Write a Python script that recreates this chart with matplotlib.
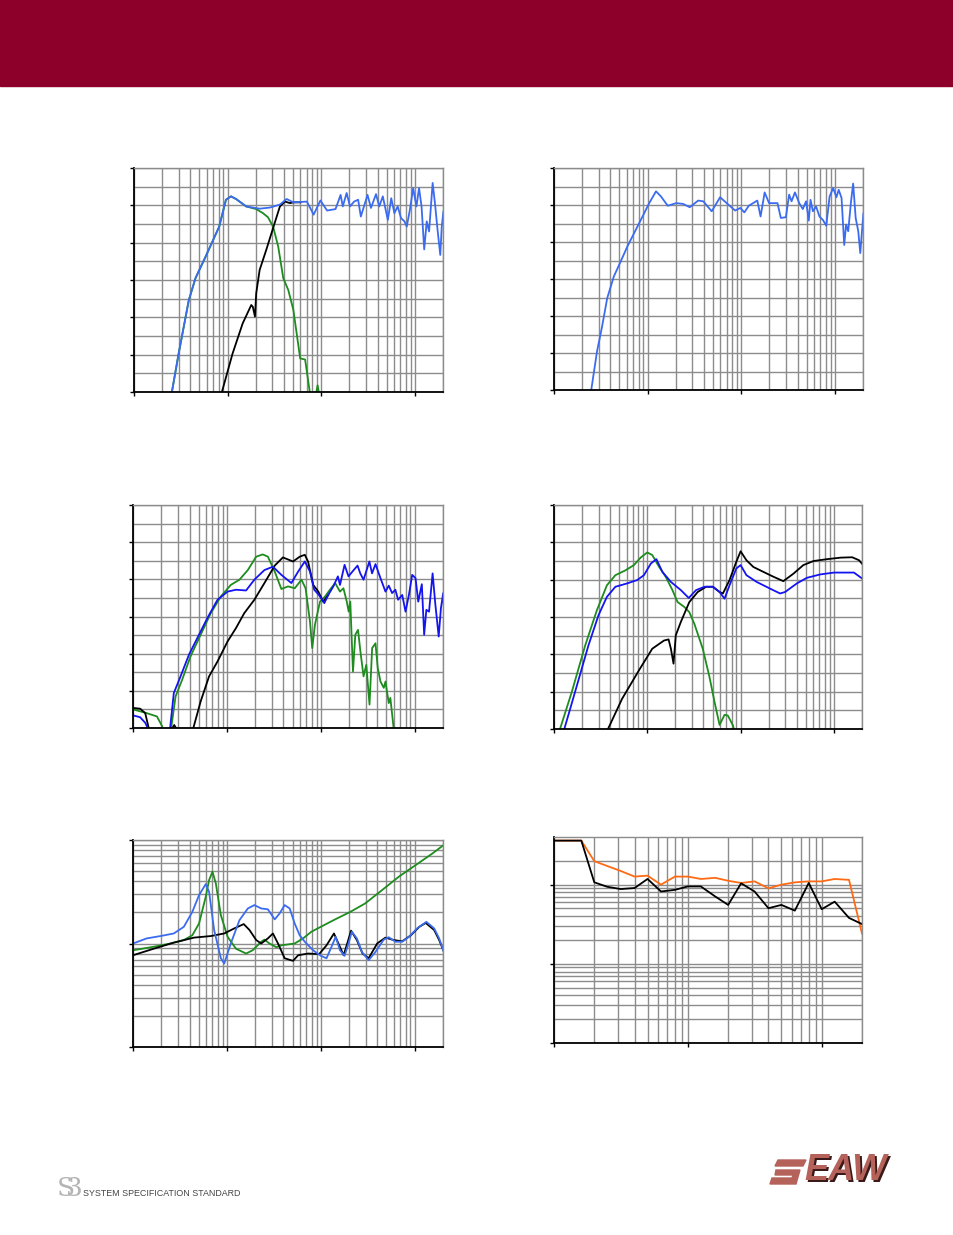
import numpy as np
import matplotlib
matplotlib.use("Agg")
import matplotlib.pyplot as plt
from matplotlib.ticker import LogLocator, MultipleLocator, FixedLocator, NullFormatter
from matplotlib.patches import Rectangle, Polygon

# ---- panel 1: summed response with LF (green) and HF (black) sections ----
p1_blue_f = [23, 25.4, 30, 38.5, 45.4, 58.3, 81.3, 96, 108.6, 123, 158, 220, 282, 362, 427, 504, 703,
             830, 980, 1156, 1422, 1611, 1700, 1870, 2030, 2245, 2480, 2650, 3125, 3400, 3850, 4170,
             4550, 5150, 5600, 6050, 6560, 7120, 7750, 8200, 8800, 9600, 10400, 11100, 11800, 12600,
             13400, 14200, 15500, 16400, 17500, 18700, 19400, 20200, 21000]
p1_blue_db = [55, 60, 70.3, 84.6, 90.5, 96.3, 104.3, 111.5, 112.4, 111.7, 109.7, 109.1, 109.4, 110.2,
              111.7, 110.8, 111.0, 107.5, 111.3, 108.6, 109.0, 112.8, 109.7, 113.3, 109.7, 111.0, 111.5,
              107.0, 112.8, 109.3, 113.0, 109.7, 112.4, 106.1, 111.9, 107.9, 109.7, 106.6, 105.7, 104.3,
              108.4, 114.6, 109.7, 114.6, 109.7, 98.2, 105.7, 103.0, 116.0, 110.6, 103.4, 96.7, 104.3,
              108.4, 99.0]
p1_green_f = [23, 25.4, 30, 38.5, 45.4, 58.3, 81.3, 96, 108.6, 123, 158, 202, 239, 270, 306, 347, 393,
              445, 504, 596, 673, 750, 790, 880, 915, 950, 1000]
p1_green_db = [55, 60, 70.3, 84.6, 90.5, 96.3, 104.3, 111.5, 112.4, 111.7, 109.7, 109.0, 107.9, 106.8,
               104.3, 99.0, 90.5, 87.3, 82.0, 69.0, 68.7, 60.5, 55, 59.5, 61.8, 59.5, 52]
p1_black_f = [80, 86.9, 113, 145, 179, 186, 196, 202, 220, 259, 306, 362, 410, 464, 504, 600]
p1_black_db = [54, 60, 70.3, 78.4, 83.3, 82.8, 80.2, 86.4, 92.7, 98.1, 103.9, 109.7, 111.0, 110.6,
               110.8, 110.8]

# ---- panel 2: single response ----
p2_blue_f = [23, 25, 28.8, 32.6, 37, 43.6, 51.5, 60.8, 74.8, 88.3, 104, 123, 139, 164, 202, 239, 282,
             347, 393, 484, 595, 700, 861, 978, 1080, 1205, 1485, 1610, 1780, 1985, 2440, 2650, 3000,
             3250, 3450, 3750, 4170, 4550, 4930, 5270, 5500, 5830, 6310, 6850, 7440, 8100, 8800, 9600,
             10400, 11000, 11800, 12600, 13200, 13900, 14900, 15700, 16700, 17800, 18700, 19500, 20200,
             21000]
p2_blue_db = [55, 60, 70.4, 77.1, 84.8, 90.7, 94.7, 98.8, 103.3, 106.9, 110.5, 113.7, 112.3, 109.8,
              110.5, 110.3, 109.4, 111.2, 111.0, 108.3, 112.1, 110.5, 108.5, 109.2, 108.0, 109.8, 111.2,
              106.9, 113.4, 110.5, 110.5, 106.5, 106.7, 112.8, 111.0, 113.4, 110.5, 108.9, 111.0, 105.8,
              111.4, 108.3, 109.6, 106.9, 106.0, 104.4, 112.3, 114.6, 112.1, 114.1, 111.9, 99.2, 104.7,
              102.9, 111.0, 115.8, 106.5, 102.9, 97.0, 102.9, 107.8, 98.3]

# ---- panel 3 ----
p3_black_f = [10, 11.9, 13.5, 15, 17, 22, 26, 27.5, 29, 33, 40, 43.9, 52.6, 64.6, 79.4, 101.7, 125, 153,
              196, 251, 323, 395, 506, 597, 675, 731, 830, 940, 1060, 1200]
p3_black_db = [65.4, 65.2, 64.0, 59, 55, 56, 59.8, 60.8, 59.8, 55, 57, 60, 67.2, 73.9, 77.9, 83.3, 86.9,
               90.9, 94.5, 99.0, 103.7, 105.9, 104.8, 106.1, 106.6, 104.8, 98.5, 96.7, 94.0, 95.8]
p3_blue_f = [10, 11.9, 13.5, 15, 17, 22, 24.6, 27.2, 32.1, 39.4, 48.4, 62, 79.4, 101.7, 125, 160, 196,
             251, 309, 380, 486, 574, 675, 766, 851, 953, 1090, 1200, 1360, 1520, 1600, 1790, 1970, 2240,
             2460, 2630, 2850, 3290, 3510, 3820, 4320, 4880, 5290, 5740, 6220, 6650, 7360, 7980, 8670,
             9400, 10200, 10900, 11900, 12600, 13300, 14200, 15500, 16600, 18000, 19000, 20100, 21000]
p3_blue_db = [63.4, 62.9, 61.4, 59, 56, 56, 59, 69.4, 73.9, 79.7, 84.2, 89.6, 94.5, 96.7, 97.2, 97.0,
              99.9, 102.5, 103.4, 101.2, 99.0, 102.1, 104.8, 102.1, 97.2, 95.8, 93.6, 95.8, 98.1, 100.8,
              98.5, 103.9, 100.8, 102.5, 103.7, 101.6, 99.9, 104.8, 101.6, 104.1, 100.3, 96.7, 98.3, 96.3,
              97.2, 94.5, 95.8, 91.3, 95.8, 101.2, 100.3, 94.0, 98.7, 85.1, 91.8, 91.3, 101.6, 93.1, 84.6,
              92.2, 96.3, 87.3]
p3_green_f = [10, 14, 18, 20.4, 22, 24, 25.5, 28.4, 33.4, 41, 52.6, 67.3, 86.2, 110, 136, 167, 205, 241,
              273, 323, 380, 448, 528, 622, 688, 766, 810, 866, 980, 1110, 1250, 1420, 1600, 1740, 1890,
              1980, 2060, 2200, 2330, 2490, 2640, 2850, 3050, 3300, 3520, 3820, 4040, 4320, 4680, 4880,
              5290, 5500, 5960, 6300]
p3_green_db = [65, 64, 63.1, 60.5, 57, 57, 60, 68.5, 73, 79.3, 85.1, 90.9, 95.4, 98.5, 99.9, 102.5, 106.1,
               106.7, 106.1, 102.1, 97.4, 98.1, 97.6, 99.9, 97.6, 88.7, 81.5, 87.8, 94.0, 95.4, 97.2, 99.0,
               96.7, 97.6, 94.0, 91.3, 94.0, 75.2, 85.1, 86.4, 80.6, 73.9, 77.0, 66.3, 81.5, 82.8, 76.1,
               72.5, 70.8, 72.5, 66.7, 68.1, 60, 55]

# ---- panel 4 ----
p4_green_f = [11.6, 15.5, 21.6, 28.8, 36.9, 45.5, 58.3, 71.8, 84.7, 100, 113, 134, 158, 186, 211, 249,
              282, 319, 393, 464, 526, 595, 673, 730, 830, 880]
p4_green_db = [60, 69.9, 82.4, 91.8, 98.5, 101.2, 102.5, 103.9, 105.9, 107.3, 106.6, 103.4, 100.7, 97.2,
               94.0, 92.7, 91.3, 88.2, 81.5, 73.9, 67.2, 61.1, 63.8, 63.6, 60.9, 58]
p4_blue_f = [12.9, 16.8, 23.4, 30.0, 36.9, 45.5, 60.8, 78, 92, 109, 125, 145, 179, 229, 278, 333, 410,
             504, 595, 673, 761, 900, 1000, 1155, 1485, 2070, 2650, 3000, 4010, 5140, 7120, 10000, 16400,
             20600]
p4_blue_db = [60, 69.9, 82.4, 90.5, 95.4, 98.1, 99.0, 99.9, 101.2, 104.3, 105.5, 102.1, 99.4, 97.2, 95.1,
              97.2, 98.1, 98.1, 96.7, 94.9, 98.5, 103.0, 103.9, 101.2, 99.4, 97.6, 96.3, 96.7, 99.0,
              100.5, 101.4, 101.9, 101.9, 100.1]
p4_black_f = [37.9, 53.7, 81.3, 113, 151, 169, 179, 191, 202, 229, 282, 347, 427, 504, 595, 646, 761,
              900, 1000, 1155, 1370, 1750, 2240, 2870, 3680, 4700, 6050, 8500, 11800, 15700, 18600, 20600]
p4_black_db = [60, 68.1, 75.7, 81.5, 83.7, 84.0, 81.5, 77.5, 85.1, 88.7, 94.0, 96.7, 98.1, 98.1, 96.7,
               96.3, 99.9, 104.8, 107.6, 105.2, 103.4, 102.1, 100.8, 99.6, 101.6, 103.9, 105.0, 105.5,
               105.9, 106.0, 105.2, 103.9]

# ---- panel 5: impedance (log) ----
p5_blue_f = [10, 14, 19.6, 27.2, 34.8, 42.8, 50.5, 59.5, 64.6, 73.1, 86.2, 93.6, 110, 136, 167, 196, 232,
             273, 323, 364, 412, 466, 527, 596, 675, 828, 1000, 1150, 1300, 1440, 1600, 1790, 1970, 2140,
             2420, 2740, 3230, 3820, 4680, 5290, 6220, 7360, 8670, 10600, 13300, 16100, 18200, 20700]
p5_blue_z = [10.0, 11.2, 11.8, 12.5, 14.5, 20.2, 29.3, 37.5, 31.6, 13.5, 7.2, 6.4, 10, 16.8, 21.8, 23.5,
             21.8, 21.4, 17.1, 19.5, 23.5, 21.8, 15.6, 12.0, 10.4, 8.6, 7.6, 7.2, 9.3, 11.6, 8.6, 7.6,
             10.0, 13.0, 11.2, 8.3, 6.9, 8.3, 10.9, 11.5, 10.4, 10.4, 11.6, 14.0, 16.2, 14.0, 11.2, 8.0]
p5_green_f = [10, 16.6, 25, 34.8, 42.8, 50.5, 59.5, 64.6, 70.2, 76.2, 86.2, 101.7, 125, 160, 188, 232,
              251, 284, 336, 380, 527, 647, 794, 1000, 1420, 2060, 2970, 4490, 6770, 10250, 15500, 21000]
p5_green_z = [8.6, 9.3, 10.0, 10.8, 12.0, 15.6, 28.3, 41, 49.4, 38.1, 18.8, 11.6, 8.9, 8.0, 8.6, 10.4,
              10.9, 10.0, 9.2, 9.6, 10.0, 11.2, 13.0, 14.5, 17.1, 20.2, 24.4, 32.8, 44.2, 57.3, 74.3, 91.5]
p5_black_f = [10, 16.6, 27.2, 44.6, 67.3, 93.6, 120, 151, 174, 205, 232, 273, 309, 350, 412, 506, 574,
              731, 960, 1150, 1380, 1540, 1750, 2100, 2420, 2780, 3230, 3980, 4880, 5960, 7360, 9100,
              11200, 13100, 16100, 18200, 20700]
p5_black_z = [7.7, 8.9, 10.2, 11.4, 11.8, 12.5, 14.0, 15.4, 13.5, 10.8, 10.0, 11.2, 12.5, 10.0, 7.2, 6.8,
              7.7, 8.0, 7.9, 9.6, 12.5, 10.0, 7.7, 13.3, 10.8, 8.0, 7.2, 10.0, 11.4, 10.8, 10.5, 12.0,
              14.5, 15.8, 13.5, 10.8, 8.1]

# ---- panel 6: beamwidth, 1/3 octave bands ----
bands = [100, 125, 160, 200, 250, 315, 400, 500, 630, 800, 1000, 1250, 1600, 2000, 2500, 3150, 4000,
         5000, 6300, 8000, 10000, 12500, 16000, 20000]
bw_orange = [360, 360, 360, 198, 172, 149, 126.5, 130, 100, 126.5, 126.5, 118, 122, 112, 105, 110, 90,
             100, 107, 110, 110, 118, 115, 24.1]
bw_black = [360, 360, 360, 107, 94, 88, 90.7, 118, 82, 86, 95, 95, 71, 55.5, 104, 82, 50.4, 55.5, 47,
            105, 49, 61, 38, 31.8]

GRID = "#8c8c8c"
LBLUE = "#3b6cf0"
DBLUE = "#1414f0"
GREEN = "#1e8c1e"
ORANGE = "#ff6a14"

W, H = 954, 1235
fig = plt.figure(figsize=(W / 100, H / 100), dpi=100)


def make_ax(left, top, right, bottom, xlim, ylim, ylog=False):
    ax = fig.add_axes([left / W, 1 - bottom / H, (right - left) / W, (bottom - top) / H])
    ax.set_xscale("log")
    ax.set_xlim(*xlim)
    ax.xaxis.set_major_locator(LogLocator(base=10, numticks=20))
    ax.xaxis.set_minor_locator(LogLocator(base=10, subs=np.arange(2, 10), numticks=50))
    if ylog:
        ax.set_yscale("log")
        ax.yaxis.set_major_locator(LogLocator(base=10, numticks=20))
        ax.yaxis.set_minor_locator(LogLocator(base=10, subs=np.arange(2, 10), numticks=50))
    else:
        ax.yaxis.set_major_locator(MultipleLocator(10))
        ax.yaxis.set_minor_locator(MultipleLocator(5))
    ax.set_ylim(*ylim)
    ax.xaxis.set_major_formatter(NullFormatter())
    ax.xaxis.set_minor_formatter(NullFormatter())
    ax.yaxis.set_major_formatter(NullFormatter())
    ax.yaxis.set_minor_formatter(NullFormatter())
    ax.grid(True, which="both", color=GRID, lw=1.0)
    ax.set_axisbelow(True)
    ax.tick_params(which="major", direction="out", length=3, width=1, color="black")
    ax.tick_params(which="minor", length=0)
    for s in ("top", "right"):
        ax.spines[s].set_color(GRID)
        ax.spines[s].set_linewidth(1.0)
    for s in ("left", "bottom"):
        ax.spines[s].set_color("black")
        ax.spines[s].set_linewidth(1.3)
    return ax


LW = 1.3

ax1 = make_ax(134, 168, 443, 392, (10, 20000), (60, 120))
ax1.plot(p1_green_f, p1_green_db, color=GREEN, lw=LW)
ax1.plot(p1_black_f, p1_black_db, color="black", lw=LW)
ax1.plot(p1_blue_f, p1_blue_db, color=LBLUE, lw=LW)

ax2 = make_ax(554, 168, 863, 390, (10, 20000), (60, 120))
ax2.plot(p2_blue_f, p2_blue_db, color=LBLUE, lw=LW)

ax3 = make_ax(133, 505, 443, 728, (10, 20000), (60, 120))
ax3.plot(p3_green_f, p3_green_db, color=GREEN, lw=LW)
ax3.plot(p3_black_f, p3_black_db, color="black", lw=LW)
ax3.plot(p3_blue_f, p3_blue_db, color=DBLUE, lw=LW)

ax4 = make_ax(554, 505, 862, 729, (10, 20000), (60, 120))
ax4.plot(p4_green_f, p4_green_db, color=GREEN, lw=LW)
ax4.plot(p4_black_f, p4_black_db, color="black", lw=LW)
ax4.plot(p4_blue_f, p4_blue_db, color=DBLUE, lw=LW)

ax5 = make_ax(133, 840, 443, 1047, (10, 20000), (1, 100), ylog=True)
ax5.plot(p5_green_f, p5_green_z, color=GREEN, lw=LW)
ax5.plot(p5_black_f, p5_black_z, color="black", lw=LW)
ax5.plot(p5_blue_f, p5_blue_z, color=LBLUE, lw=LW)

ax6 = make_ax(554, 837, 862, 1043, (100, 20000), (1, 400), ylog=True)
ax6.yaxis.set_minor_locator(FixedLocator([2, 3, 4, 5, 6, 7, 8, 9, 20, 30, 40, 50, 60, 70, 80, 90, 200]))
ax6.plot(bands, bw_orange, color=ORANGE, lw=LW)
ax6.plot(bands, bw_black, color="black", lw=LW)

# header band
fig.patches.append(Rectangle((0, 1 - 86 / H), 1, 86 / H, transform=fig.transFigure,
                             color="#8c0029", zorder=0))

# footer: S3 mark and tagline
fig.text(56 / W, 1 - 1189 / H, r"S$\!\!$3", fontsize=19, color="#b4b4b4",
         family="DejaVu Serif", va="center", ha="left")
fig.text(83 / W, 1 - 1194 / H, "SYSTEM SPECIFICATION STANDARD", fontsize=6.4, color="#444444",
         family="Liberation Sans", va="center", ha="left")

# footer: EAW logo
logo = "#b5625b"
fig.patches.append(Polygon([(778 / W, 1 - 1160 / H), (806 / W, 1 - 1160 / H), (803 / W, 1 - 1166 / H),
                            (775 / W, 1 - 1166 / H)], closed=True, transform=fig.transFigure,
                           color=logo))
fig.patches.append(Polygon([(776 / W, 1 - 1170 / H), (800 / W, 1 - 1170 / H), (796 / W, 1 - 1184 / H),
                            (770 / W, 1 - 1184 / H), (772 / W, 1 - 1178 / H), (792 / W, 1 - 1178 / H),
                            (793 / W, 1 - 1175 / H), (775 / W, 1 - 1175 / H)], closed=True,
                           transform=fig.transFigure, color=logo))
fig.text(806 / W, 1 - 1172 / H, "EAW", fontsize=26, color="#3a1a18", family="Liberation Sans",
         weight="bold", style="italic", va="center", ha="left")
fig.text(804 / W, 1 - 1171 / H, "EAW", fontsize=26, color=logo, family="Liberation Sans",
         weight="bold", style="italic", va="center", ha="left")

fig.savefig("out.png", dpi=100)
